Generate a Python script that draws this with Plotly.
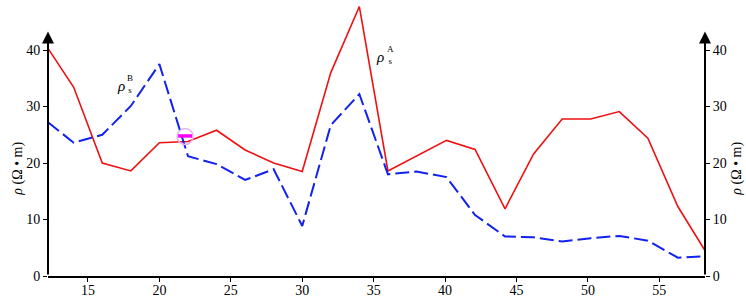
import plotly.graph_objects as go

# Data
depth = [12.2, 14, 16, 18, 20, 22, 24, 26, 28, 30, 32, 34, 36, 38, 40.1, 42.1,
         44.2, 46.2, 48.2, 50.2, 52.2, 54.2, 56.3, 58.2]
rho_A = [40.3, 33.4, 20.0, 18.6, 23.6, 23.8, 25.8, 22.3, 20.0, 18.5, 36.0, 47.7,
         18.6, 21.3, 24.0, 22.4, 11.9, 21.6, 27.8, 27.8, 29.1, 24.4, 12.3, 4.5]
rho_B = [27.2, 23.6, 25.0, 30.1, 37.5, 21.2, 19.8, 17.0, 18.9, 8.85, 26.7, 32.2,
         18.0, 18.5, 17.5, 10.8, 7.0, 6.85, 6.1, 6.7, 7.1, 6.25, 3.25, 3.5]
x_ticks = [15, 20, 25, 30, 35, 40, 45, 50, 55]
y_ticks = [0, 10, 20, 30, 40]

XR = [12.2, 58.2]
YR = [0, 48.5]
FONT = "Liberation Serif"
ML, MR = 48, 41
PW = 746 - ML - MR

fig = go.Figure()
fig.add_trace(go.Scatter(x=depth, y=rho_A, mode="lines",
                         line=dict(color="#ee1111", width=1.6), showlegend=False))
fig.add_trace(go.Scatter(x=depth, y=rho_B, mode="lines",
                         line=dict(color="#1122ee", width=2, dash="14px,5px"),
                         showlegend=False))
# dummy trace for right axis
fig.add_trace(go.Scatter(x=[depth[0]], y=[rho_A[0]], yaxis="y2", mode="markers",
                         marker=dict(opacity=0), showlegend=False, hoverinfo="skip"))

fig.update_layout(
    width=746, height=297,
    margin=dict(l=ML, r=MR, t=2, b=21),
    plot_bgcolor="white", paper_bgcolor="white",
    font=dict(family=FONT, size=14, color="black"),
    xaxis=dict(range=XR, tickvals=x_ticks, showgrid=False, zeroline=False,
               showline=True, linecolor="black", linewidth=2, automargin=False,
               ticks="outside", ticklen=4, tickwidth=1, tickcolor="black",
               ticklabelstandoff=-4,
               tickfont=dict(family=FONT, size=14)),
    yaxis=dict(range=YR, tickvals=y_ticks, showgrid=False, zeroline=False,
               showline=False, ticks="outside", ticklen=4, tickwidth=1, automargin=False,
               tickcolor="black", ticklabelstandoff=0,
               tickfont=dict(family=FONT, size=14)),
    yaxis2=dict(range=YR, tickvals=y_ticks, overlaying="y", side="right",
                showgrid=False, zeroline=False, showline=False, automargin=False,
                ticks="outside", ticklen=4, tickwidth=1, tickcolor="black",
                ticklabelstandoff=0, tickfont=dict(family=FONT, size=14)),
)

ann = []
# vertical axes with arrowheads
for xv in XR:
    ann.append(dict(x=xv, y=43.3, ax=xv, ay=0, xref="x", yref="y", axref="x", ayref="y",
                    text="", showarrow=True, arrowhead=2, arrowsize=1.2,
                    arrowwidth=2, arrowcolor="black", standoff=0, startstandoff=0))
# axis titles
for px in (18, 737):
    ann.append(dict(x=(px - ML) / PW, y=19.0, xref="paper", yref="y", showarrow=False,
                    text="<i>ρ</i> (Ω • m)", textangle=-90,
                    font=dict(family=FONT, size=14), xanchor="center", yanchor="middle"))
# series labels
ann += [
    dict(x=17.33, y=33.6, xref="x", yref="y", text="<i>ρ</i>", showarrow=False,
         font=dict(family=FONT, size=15)),
    dict(x=17.96, y=33.9, xref="x", yref="y", text="B<br>s", showarrow=False,
         font=dict(family=FONT, size=9), align="center"),
    dict(x=35.47, y=38.8, xref="x", yref="y", text="<i>ρ</i>", showarrow=False,
         font=dict(family=FONT, size=15)),
    dict(x=36.17, y=39.1, xref="x", yref="y", text="A<br>s", showarrow=False,
         font=dict(family=FONT, size=9), align="center"),
]
fig.update_layout(annotations=ann)

# small highlight marker
mx, my = 21.8, 24.7
fig.add_shape(type="circle", xref="x", yref="y", xsizemode="pixel", ysizemode="pixel",
              xanchor=mx, yanchor=my, x0=-8, x1=8, y0=-8, y1=8,
              line=dict(color="#e0b0f0", width=1.5))
fig.add_shape(type="line", xref="x", yref="y", xsizemode="pixel", ysizemode="pixel",
              xanchor=mx, yanchor=my, x0=-7, x1=7, y0=0.5, y1=0.5,
              line=dict(color="#ff00ff", width=3.5))

fig.write_html("out.html", config={"displayModeBar": False},
               post_script="document.body.style.margin='0';document.body.style.overflow='hidden';")
